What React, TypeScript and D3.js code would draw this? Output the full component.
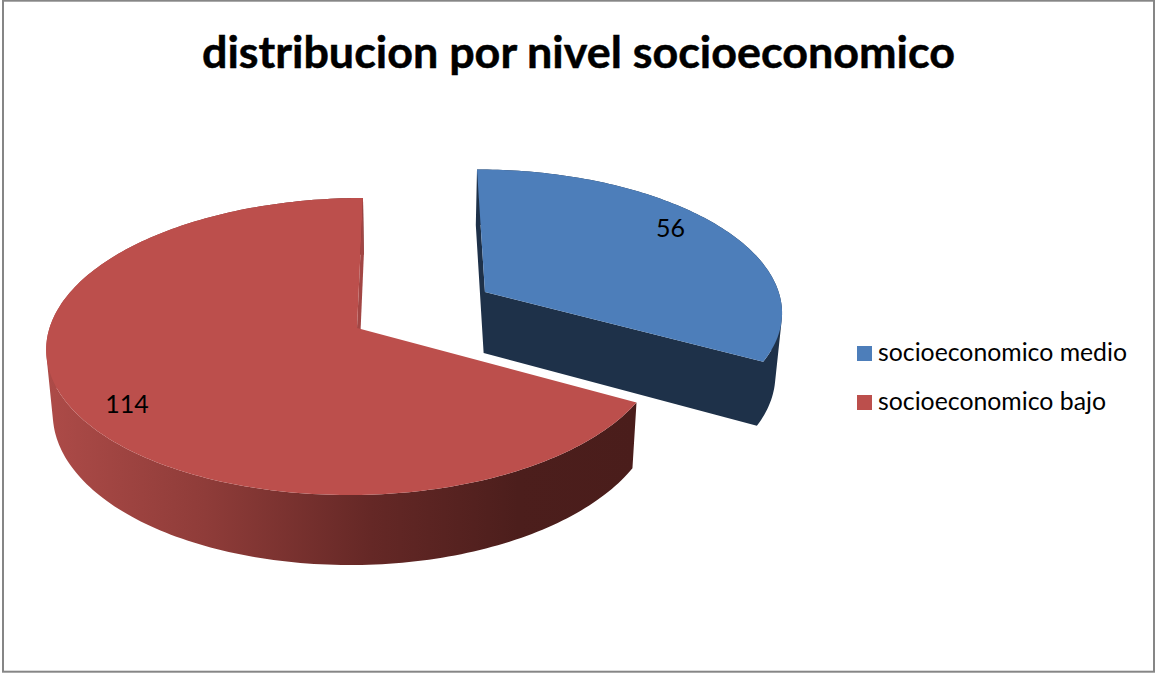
import React from "react";
import * as d3 from "d3";

// Socioeconomic level counts
const categories = ["socioeconomico medio", "socioeconomico bajo"];
const counts = [56, 114];
const topColors = ["#4D7EBA", "#BC4F4C"];
const title = "distribucion por nivel socioeconomico";

const WIDTH = 1155;
const HEIGHT = 673;

// Perspective of the pie plane
const vanishX = 411;
const planeY = 328;
const depthGain = 0.1246;
const reachY = 146.2;
const reachLeft = 307.5;
const reachRight = 303;
const floorShrink = 0.982;
const wallDepth = d3.scaleLinear().domain([292, 495]).range([61, 70]);

// Explosion of each slice on the pie plane
const sliceOffsets = [
  { across: 76.3, along: -0.254 },
  { across: -54, along: 0 },
];

type Pt = [number, number];
type Offset = { across: number; along: number };

function onTop(o: Offset, angle: number, radius: number): Pt {
  const u = radius * Math.sin(angle);
  const v = o.along - radius * Math.cos(angle);
  const w = 1 - depthGain * v;
  const reach = u < 0 ? reachLeft : reachRight;
  return [vanishX + (o.across + reach * u) / w, planeY + (reachY * v) / w];
}

function toFloor([x, y]: Pt): Pt {
  return [vanishX + (x - vanishX) * floorShrink, y + wallDepth(y)];
}

const outline = d3.line<Pt>();

function arcPoints(o: Offset, a0: number, a1: number): Pt[] {
  const n = Math.ceil(Math.abs(a1 - a0) / 0.02);
  return d3.range(n + 1).map((i) => onTop(o, a0 + ((a1 - a0) * i) / n, 1));
}

// The wall is one path of same-wound quads, so its silhouette edges
// are filled and no seams show between neighbouring segments.
function wallPath(top: Pt[]): string {
  const parts: string[] = [];
  for (let i = 0; i < top.length - 1; i++) {
    const quad: Pt[] = [top[i], top[i + 1], toFloor(top[i + 1]), toFloor(top[i])];
    if (d3.polygonArea(quad) < 0) quad.reverse();
    parts.push(outline(quad) + "Z");
  }
  return parts.join("");
}

export default function App() {
  const slices = d3.pie<number>().sort(null).startAngle(0).endAngle(2 * Math.PI)(counts);
  const [medio, bajo] = slices;
  const blue = sliceOffsets[0];
  const red = sliceOffsets[1];
  const blueApex = onTop(blue, 0, 0);
  const redApex = onTop(red, 0, 0);

  const blueArc = arcPoints(blue, medio.startAngle, medio.endAngle);
  const redArc = arcPoints(red, bajo.startAngle, bajo.endAngle);

  const blueWall = wallPath(blueArc) + wallPath([blueApex, blueArc[0]]) + wallPath([blueApex, blueArc[blueArc.length - 1]]);

  return (
    <svg
      width={WIDTH}
      height={HEIGHT}
      viewBox={`0 0 ${WIDTH} ${HEIGHT}`}
      style={{ position: "absolute", left: 0, top: 0, display: "block", background: "#fff" }}
      fontFamily="Lato, 'Open Sans', sans-serif"
    >
      <defs>
        <linearGradient id="redWall" gradientUnits="userSpaceOnUse" x1={46} x2={636} y1={0} y2={0}>
          <stop offset="0" stopColor="#AD4B48" />
          <stop offset="0.27" stopColor="#8F3C39" />
          <stop offset="0.55" stopColor="#652826" />
          <stop offset="0.8" stopColor="#4C1E1C" />
          <stop offset="1" stopColor="#4A1D1B" />
        </linearGradient>
      </defs>

      <rect x={3} y={0.7} width={1151} height={671} fill="#fff" stroke="#868686" strokeWidth={2} />

      <text x={202} y={68} fontSize={44} fontWeight={700} fill="#000" stroke="#000" strokeWidth={0.5} textLength={753} lengthAdjust="spacingAndGlyphs">
        {title}
      </text>

      {/* low-level slice */}
      <path d={wallPath(redArc)} fill="url(#redWall)" />
      <path d={wallPath([redApex, redArc[redArc.length - 1]])} fill="#A24644" />
      <path d={outline([redApex, ...redArc]) + "Z"} fill={topColors[1]} />

      {/* mid-level slice */}
      <path d={blueWall} fill="#1E3149" />
      <path d={outline([blueApex, ...blueArc]) + "Z"} fill={topColors[0]} />

      <text x={670.5} y={237} fontSize={25} textAnchor="middle" fill="#000">{counts[0]}</text>
      <text x={127} y={413} fontSize={25} textAnchor="middle" fill="#000">{counts[1]}</text>

      {categories.map((name, i) => (
        <g key={name}>
          <rect x={857} y={346 + i * 49} width={15} height={15} fill={topColors[i]} />
          <text x={878} y={361 + i * 49} fontSize={25} fill="#000" textLength={i === 0 ? 249 : 228} lengthAdjust="spacingAndGlyphs">
            {name}
          </text>
        </g>
      ))}
    </svg>
  );
}
